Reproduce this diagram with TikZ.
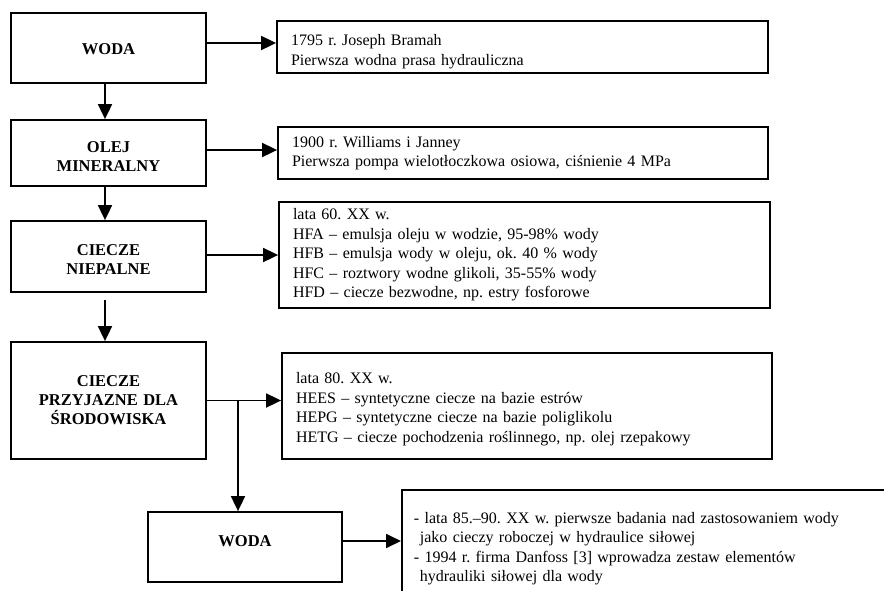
\documentclass[tikz,border=0pt]{standalone}
\usepackage{fontspec}
\setmainfont{Liberation Serif}
\usetikzlibrary{arrows.meta}
\frenchspacing
\newcommand\MyShiftC[2]{\raisebox{#1}[\height][\depth]{\begin{tabular}{@{}c@{}}#2\end{tabular}}}
\begin{document}
\begin{tikzpicture}[x=1pt,y=-1pt,
 lbox/.style={draw, line width=1.8pt, minimum width=195pt, text width=195pt, align=center, inner sep=0pt, font=\bfseries\fontsize{16.5}{19}\selectfont},
 rbox/.style={draw, line width=1.8pt, align=left, inner xsep=14pt, inner ysep=0pt, font=\fontsize{16}{19.5}\selectfont},
 arr/.style={line width=1.8pt, -{Triangle[length=15pt,width=14pt]}}]
\useasboundingbox (0,0) rectangle (884,590);
\clip (0,0) rectangle (884,590);
% left boxes
\node[lbox, minimum height=70pt] (B1) at (108.5,48) {\MyShiftC{-3pt}{WODA}};
\node[lbox, minimum height=66pt] (B2) at (108.5,153) {\MyShiftC{-5pt}{OLEJ\\MINERALNY}};
\node[lbox, minimum height=71pt] (B3) at (108.5,256.5) {\MyShiftC{-5pt}{CIECZE\\NIEPALNE}};
\node[lbox, minimum height=117pt] (B4) at (108.5,400.5) {CIECZE\\PRZYJAZNE DLA\\ŚRODOWISKA};
\node[lbox, minimum width=194pt, text width=194pt, minimum height=70pt] (B5) at (245,547) {\MyShiftC{4pt}{WODA}};
% right boxes
\node[rbox, text width=463pt, minimum height=52pt] (R1) at (522.5,47) {\rule{0pt}{20pt}1795 r. Joseph Bramah\\Pierwsza wodna prasa hydrauliczna};
\node[rbox, text width=462pt, minimum height=52pt] (R2) at (523,153) {1900 r. Williams i Janney\\Pierwsza pompa wielotłoczkowa osiowa, ciśnienie 4 MPa};
\node[rbox, text width=463pt, minimum height=106pt] (R3) at (524.5,255) {lata 60. XX w.\\HFA – emulsja oleju w wodzie, 95-98\% wody\\HFB – emulsja wody w oleju, ok. 40 \% wody\\HFC – roztwory wodne glikoli, 35-55\% wody\\HFD – ciecze bezwodne, np. estry fosforowe};
\node[rbox, text width=462pt, minimum height=106pt] (R4) at (527,406) {\rule{0pt}{17pt}lata 80. XX w.\\HEES – syntetyczne ciecze na bazie estrów\\HEPG – syntetyczne ciecze na bazie poliglikolu\\HETG – ciecze pochodzenia roślinnego, np. olej rzepakowy};
\node[rbox, anchor=north west, text width=480pt, inner xsep=12pt, inner ysep=22pt] (R5) at (401,489) {- lata 85.–90. XX w. pierwsze badania nad zastosowaniem wody\\\hspace*{6pt}jako cieczy roboczej w hydraulice siłowej\\- 1994 r. firma Danfoss [3] wprowadza zestaw elementów\\\hspace*{6pt}hydrauliki siłowej dla wody};
% horizontal arrows
\coordinate (a1) at ([yshift=5pt]B1.east);
\draw[arr] (a1) -- (a1 -| R1.west);
\coordinate (a2) at ([yshift=3pt]B2.east);
\draw[arr] (a2) -- (a2 -| R2.west);
\coordinate (a3) at ([yshift=1.5pt]B3.east);
\draw[arr] (a3) -- (a3 -| R3.west);
\draw[arr] (B4.east) -- (B4.east -| R4.west);
\coordinate (a5) at ([yshift=6pt]B5.east);
\draw[arr] (a5) -- (a5 -| R5.west);
% vertical arrows
\coordinate (v1) at ([xshift=-3.5pt]B1.south);
\draw[arr] (v1) -- (v1 |- B2.north);
\coordinate (v2) at ([xshift=-3.5pt]B2.south);
\draw[arr] (v2) -- (v2 |- B3.north);
\coordinate (v3) at ([xshift=-3.5pt,yshift=-7pt]B3.south);
\draw[arr] (v3) -- (v3 |- B4.north);
\coordinate (J) at (238,400.5);
\draw[arr] (J) -- (J |- B5.north);
\end{tikzpicture}
\end{document}
